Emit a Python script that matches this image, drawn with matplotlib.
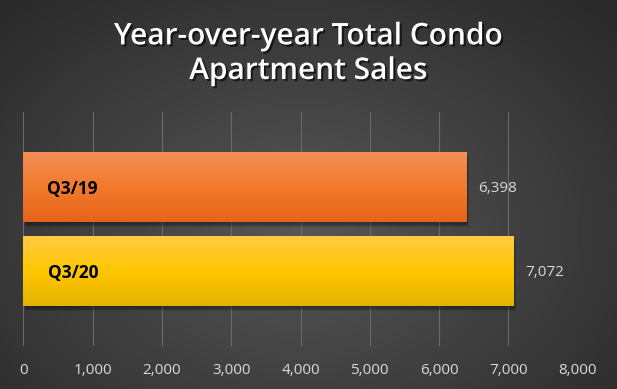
import numpy as np
import matplotlib.pyplot as plt
import matplotlib.patheffects as pe
from matplotlib.colors import LinearSegmentedColormap

# data
labels = ["Q3/20", "Q3/19"]
values = [7072, 6398]
top_colors = ["#FFCB45", "#F48E57"]
mid_colors = ["#FFC600", "#F27A2C"]
bot_colors = ["#E4B400", "#E5641A"]
ticks = [0, 1000, 2000, 3000, 4000, 5000, 6000, 7000, 8000]

plt.rcParams['font.family'] = ['Open Sans', 'DejaVu Sans']

fig = plt.figure(figsize=(6.17, 3.89), dpi=100)

# background radial gradient
bg = fig.add_axes([0, 0, 1, 1])
yy, xx = np.mgrid[0:389, 0:617]
r = np.sqrt(((xx - 300) / 420.0) ** 2 + ((yy - 230) / 300.0) ** 2)
r = np.clip(r, 0, 1)
bgcmap = LinearSegmentedColormap.from_list("bg", ["#575757", "#2b2b2b"])
bg.imshow(r, cmap=bgcmap, aspect="auto", extent=[0, 1, 0, 1], vmin=0, vmax=1)
bg.axis("off")

ax = fig.add_axes([0.0378, 0.1105, 0.8985, 0.6015])
ax.patch.set_alpha(0)
bars = ax.barh([0, 1], values, height=0.833, color="none", zorder=3)

for i, b in enumerate(bars):
    x0, y0 = b.get_x(), b.get_y()
    w, h = b.get_width(), b.get_height()
    # soft shadow, a few layers
    for k in range(4):
        ax.add_patch(plt.Rectangle((x0 + 10 + 8 * k, y0 - 0.015 - 0.015 * k), w, h,
                                   color="black", alpha=0.12, zorder=2, lw=0))
    cmap = LinearSegmentedColormap.from_list(
        "g%d" % i, [bot_colors[i], mid_colors[i], top_colors[i]])
    grad = np.linspace(0, 1, 100).reshape(-1, 1)
    im = ax.imshow(grad, cmap=cmap, aspect="auto", origin="lower",
                   extent=[x0, x0 + w, y0, y0 + h], zorder=4)
    im.set_clip_path(b)
    ax.text(360 if i == 0 else 340, i - 0.02, labels[i], color="black",
            fontsize=12.5, fontweight="bold", va="center", ha="left", zorder=5)
    ax.text(w + 170, i - 0.02, "{:,}".format(values[i]), color="#d9d9d9",
            fontsize=11, va="center", ha="left", zorder=5)

ax.set_xlim(0, 8000)
ax.set_ylim(-0.893, 1.893)
ax.set_xticks(ticks)
ax.set_xticklabels(["{:,}".format(t) for t in ticks], color="#d9d9d9", fontsize=11)
ax.tick_params(axis="x", length=0, pad=12)
ax.set_yticks([])
ax.grid(axis="x", color="#6a6a6a", lw=0.8, zorder=0)
for s in ax.spines.values():
    s.set_visible(False)

fig.text(0.5, 0.862, "Year-over-year Total Condo\nApartment Sales", ha="center",
         va="center", color="white", fontsize=21.5, fontweight="semibold",
         linespacing=1.2,
         path_effects=[pe.withSimplePatchShadow(offset=(1.5, -1.5), shadow_rgbFace="black", alpha=0.6)])

fig.savefig("out.png", dpi=100)
